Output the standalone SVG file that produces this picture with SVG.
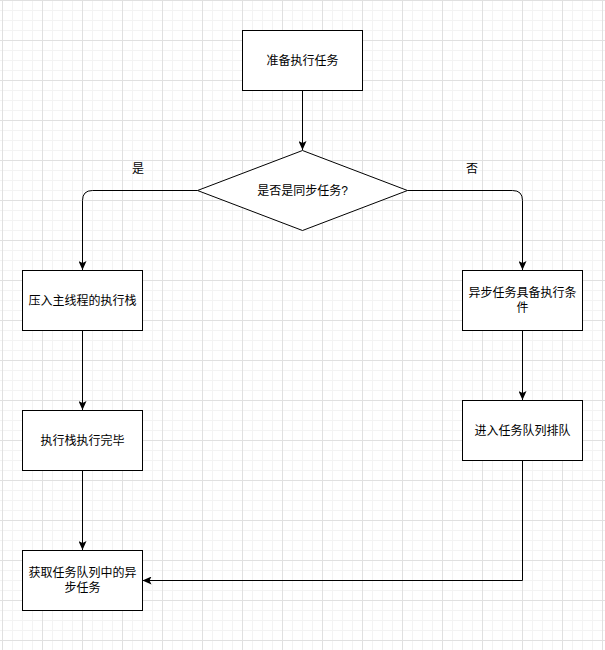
<svg xmlns="http://www.w3.org/2000/svg" width="605" height="650" viewBox="0 0 605 650">
  <defs>
    <pattern id="minor" patternUnits="userSpaceOnUse" x="2" y="0" width="10" height="10">
      <path d="M0.5 0 V10 M0 0.5 H10" stroke="#f3f3f3" stroke-width="1" fill="none"/>
    </pattern>
    <pattern id="major" patternUnits="userSpaceOnUse" x="2" y="0" width="40" height="40">
      <path d="M0.5 0 V40 M0 0.5 H40" stroke="#e0e0e0" stroke-width="1" fill="none"/>
    </pattern>
    <marker id="arrow" viewBox="0 0 9 8" markerWidth="9" markerHeight="8" refX="9" refY="4" orient="auto" markerUnits="userSpaceOnUse">
      <path d="M0,0 L9,4 L0,8 L2,4 Z" fill="#000"/>
    </marker>
    <style>
      .box { fill: #fff; stroke: #000; stroke-width: 1; }
      .lbl { font-family: "Liberation Sans", "Noto Sans CJK SC", sans-serif; font-size: 12px; fill: #000; text-anchor: middle; dominant-baseline: central; }
      .edge { fill: none; stroke: #000; stroke-width: 1; }
    </style>
  </defs>
  <rect width="605" height="650" fill="#fff"/>
  <rect width="605" height="650" fill="url(#minor)"/>
  <rect width="605" height="650" fill="url(#major)"/>

  <g id="connectors">
    <path class="edge" d="M302.5 90.5 V150" marker-end="url(#arrow)"/>
    <path class="edge" d="M197.5 190.5 H92.5 Q82.5 190.5 82.5 200.5 V270" marker-end="url(#arrow)"/>
    <path class="edge" d="M407.5 190.5 H512.5 Q522.5 190.5 522.5 200.5 V270" marker-end="url(#arrow)"/>
    <path class="edge" d="M82.5 330.5 V410" marker-end="url(#arrow)"/>
    <path class="edge" d="M82.5 470.5 V550" marker-end="url(#arrow)"/>
    <path class="edge" d="M522.5 330.5 V400" marker-end="url(#arrow)"/>
    <path class="edge" d="M522.5 460.5 V580.5 H142.5" marker-end="url(#arrow)"/>
    <text class="lbl" x="138" y="169">是</text>
    <text class="lbl" x="472" y="169">否</text>
  </g>

  <g id="start">
    <rect class="box" x="242.5" y="30.5" width="120" height="60"/>
    <text class="lbl" x="302.5" y="60.5">准备执行任务</text>
  </g>
  <g id="decision">
    <polygon class="box" points="302.5,150.5 407.5,190.5 302.5,230.5 197.5,190.5"/>
    <text class="lbl" x="302.5" y="190.5">是否是同步任务?</text>
  </g>
  <g id="push-stack">
    <rect class="box" x="22.5" y="270.5" width="120" height="60"/>
    <text class="lbl" x="82.5" y="300.5">压入主线程的执行栈</text>
  </g>
  <g id="stack-done">
    <rect class="box" x="22.5" y="410.5" width="120" height="60"/>
    <text class="lbl" x="82.5" y="440.5">执行栈执行完毕</text>
  </g>
  <g id="fetch-task">
    <rect class="box" x="22.5" y="550.5" width="120" height="60"/>
    <text class="lbl" x="82.5" y="572.5">获取任务队列中的异</text>
    <text class="lbl" x="82.5" y="587.5">步任务</text>
  </g>
  <g id="async-ready">
    <rect class="box" x="462.5" y="270.5" width="120" height="60"/>
    <text class="lbl" x="522.5" y="293">异步任务具备执行条</text>
    <text class="lbl" x="522.5" y="308">件</text>
  </g>
  <g id="enqueue">
    <rect class="box" x="462.5" y="400.5" width="120" height="60"/>
    <text class="lbl" x="522.5" y="430.5">进入任务队列排队</text>
  </g>
</svg>
